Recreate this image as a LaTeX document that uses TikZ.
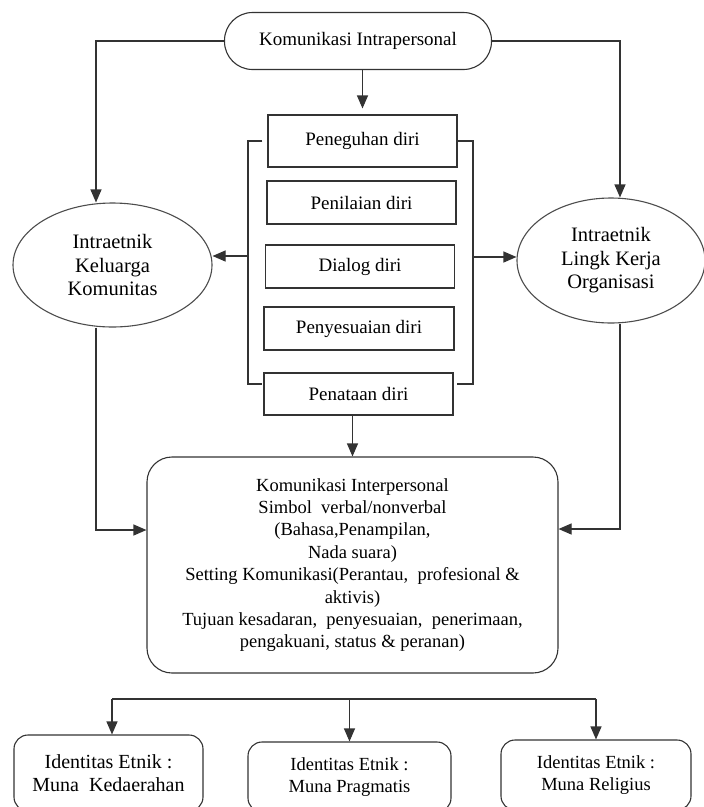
\documentclass[tikz,border=0pt]{standalone}
\usepackage{fontspec}
\setmainfont{Liberation Serif}
\usetikzlibrary{arrows.meta,shapes.geometric}
\tikzset{
	ln/.style={line width=1.1pt, draw=black!80},
	arr/.style={ln, -{Triangle[width=11pt,length=13pt]}},
	txt/.style={font=\fontsize{19}{23}\selectfont, align=center, inner sep=0pt},
	dirbox/.style={ln, txt, rectangle, minimum width=189pt, minimum height=43pt},
	oval/.style={ln, txt, ellipse, draw=black!70, minimum width=199pt, minimum height=124pt, font=\fontsize{20.5}{23.5}\selectfont},
	idbox/.style={ln, txt, rectangle, rounded corners=14pt, minimum height=70pt, font=\fontsize{18.5}{22}\selectfont}
}

\begin{document}
\begin{tikzpicture}[x=1pt, y=-1pt]
			%%%%% START %%%%%
			\useasboundingbox (0,0) rectangle (704,807);
			
			\node[ln, txt, rectangle, rounded corners=28pt, minimum width=267pt, minimum height=57pt] (intra) at (358,41) {Komunikasi Intrapersonal};
			
			\node[dirbox, minimum height=52pt] (peneguhan) at (362.5,141) {Peneguhan diri};
			\node[dirbox] (penilaian) at (361.5,202.5) {Penilaian diri};
			\node[dirbox] (dialog) at (360,266.5) {Dialog diri};
			\node[dirbox, minimum width=190pt] (penyesuaian) at (359,328.5) {Penyesuaian diri};
			\node[dirbox, minimum height=42pt] (penataan) at (358.5,394) {Penataan diri};
			
			\node[oval] (kel) at (112.5,265) {Intraetnik\\Keluarga\\Komunitas};
			\node[oval, minimum width=188pt, minimum height=125pt] (org) at (611,260.5) {Intraetnik\\Lingk Kerja\\Organisasi};
			
			\node[ln, txt, rectangle, rounded corners=25pt, minimum width=411pt, minimum height=216pt, font=\fontsize{18.5}{22.4}\selectfont] (inter) at (352.5,565)
				{Komunikasi Interpersonal\\Simbol\ \ verbal/nonverbal\\(Bahasa,Penampilan,\\Nada suara)\\Setting Komunikasi(Perantau,\ \ profesional \&\\aktivis)\\Tujuan kesadaran,\ \ penyesuaian,\ \ penerimaan,\\pengakuani, status \& peranan)};
			
			\node[idbox, minimum width=189pt, minimum height=76pt, font=\fontsize{20}{23}\selectfont] (ked) at (108.5,773) {Identitas Etnik :\\Muna\ \ Kedaerahan};
			\node[idbox, minimum width=203pt] (prag) at (349.5,777) {Identitas Etnik :\\Muna Pragmatis};
			\node[idbox, minimum width=190pt] (rel) at (596,775) {Identitas Etnik :\\Muna Religius};
			
			\coordinate (bl) at (248,256);
			\coordinate (br) at (473,257);
			\coordinate (lrail) at (96,530);
			\coordinate (rrail) at (620,529);
			\coordinate (fork) at (348,699);
			\coordinate (kedtop) at ([xshift=3.5pt]ked.north);
			
			% brackets round the boxes
			\draw[ln] ([xshift=-5pt]peneguhan.west) -| (bl) |- ([xshift=-1pt,yshift=10pt]penataan.west);
			\draw[ln] (peneguhan.east) -| (br) |- ([xshift=3pt,yshift=10pt]penataan.east);
			\draw[arr] (bl) -- (bl -| kel.east);
			\draw[arr] (br) -- (br -| org.west);
			
			\draw[arr] (intra.west) -| (lrail |- kel.north);
			\draw[arr] (intra.east) -| (rrail |- org.north);
			\draw[arr, shorten >=6pt] (peneguhan.north |- intra.south) -- (peneguhan.north);
			\draw[arr] (inter.north |- penataan.south) -- (inter.north);
			\draw[arr] (lrail |- kel.south) |- (lrail -| inter.west);
			\draw[arr] (rrail |- org.south) |- (rrail -| inter.east);
			
			\draw[ln] (kedtop |- fork) -- (rel.north |- fork);
			\draw[arr] (kedtop |- fork) -- (kedtop);
			\draw[arr] (prag.north |- fork) -- (prag.north);
			\draw[arr] (rel.north |- fork) -- (rel.north);
			
			%%%%% END %%%%%
\end{tikzpicture}
\end{document}
